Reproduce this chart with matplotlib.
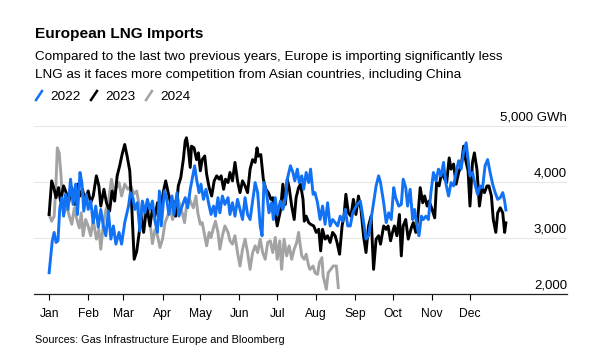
import matplotlib
matplotlib.use('Agg')
import matplotlib.pyplot as plt
from matplotlib.lines import Line2D

plt.rcParams['font.family'] = ['Liberation Sans', 'DejaVu Sans']

# day of year / daily LNG imports (GWh)
d22 = [0, 2.5, 4, 5.5, 7, 8.5, 10, 11.5, 13, 15, 17, 19, 21, 22.5, 24.5, 26, 27.5, 29.5, 31, 33,
       35, 37, 39, 41, 43, 45, 47, 49, 51, 53, 55.5, 57.5, 60, 63, 64.5, 66.5, 68, 70, 72, 74,
       76, 78, 80, 82, 84, 86, 87.5, 89, 91.5, 93, 95, 97.5, 99, 101.5, 103, 105.5, 108, 110, 112, 115.5,
       117, 119, 120.5, 122.5, 124.5, 126.5, 128.5, 130.5, 132, 134, 135.5, 137.5, 139.5, 142, 143.5, 145.5, 147.5, 149.5, 151.5, 153.5,
       155.5, 157.5, 159.5, 161.5, 163.5, 165.5, 167.5, 169, 170.5, 172.5, 174.5, 176.5, 178, 179.5, 181, 183.5, 185.5, 187.5, 189, 191.5,
       193.5, 195, 197, 198.5, 200.5, 202, 204, 206, 207.5, 209.5, 211, 213, 215, 217, 219, 221, 223, 225, 227, 229,
       231, 233, 235, 237, 239, 241, 243, 244.5, 247, 248.5, 250, 251.5, 253.5, 255.5, 257.5, 259.5, 261.5, 263, 265.5, 267.5,
       269.5, 271.5, 273.5, 275, 277.5, 279.5, 281, 283, 284.5, 286.5, 288.5, 290, 292, 293.5, 295.5, 297, 299, 301, 303, 305,
       307, 309, 311, 313, 315, 317, 319, 321, 323, 325, 327, 329, 331, 332.5, 334, 336, 338, 340, 342, 344,
       346, 348, 350, 352, 354, 356, 358, 360, 361.5, 362.5]
v22 = [2380, 2950, 3100, 2920, 2950, 3540, 3720, 3390, 3780, 3510, 4050, 3600, 3960, 3420, 4170, 3990, 3480, 3780, 3510, 3660,
       3270, 3570, 3190, 3510, 3215, 3040, 3480, 2980, 3215, 2890, 3100, 2890, 3275, 3570, 3810, 3720, 3510, 3630, 3125, 3660,
       3450, 3690, 3510, 3660, 3300, 3100, 3840, 3215, 3840, 3750, 3420, 3750, 3420, 3810, 3390, 3570, 3720, 3540, 3870, 4290,
       4050, 3810, 3960, 3690, 3870, 3630, 3420, 3570, 3390, 3720, 3450, 3750, 3600, 3720, 3420, 3630, 3390, 3690, 3510, 3330,
       3720, 3420, 3330, 3660, 3990, 3810, 3215, 3040, 3990, 3810, 3450, 3630, 3330, 3720, 3420, 3660, 3510, 3690, 4050, 4290,
       4170, 4020, 4230, 3990, 4110, 3870, 4170, 3990, 4230, 3780, 3810, 3630, 3330, 3570, 3245, 3630, 3215, 3330, 3275, 3215,
       3390, 3300, 3510, 3215, 3215, 3450, 3540, 3600, 3660, 3450, 3215, 2980, 3040, 3330, 3630, 3930, 4110, 3990, 3630, 3275,
       3450, 3330, 3900, 3720, 3570, 3600, 4050, 3900, 3570, 3870, 3330, 3510, 3215, 3040, 3390, 3330, 3390, 3330, 3810, 4170,
       4020, 4230, 4110, 4350, 3960, 3750, 3990, 3930, 4170, 4380, 4230, 4550, 4700, 4400, 4110, 4170, 3960, 3780, 3930, 3900,
       4290, 4400, 4170, 3960, 3810, 3690, 3720, 3810, 3660, 3500]

d23 = [0, 2, 4, 5.5, 7.5, 9, 11.5, 13.5, 15.5, 18, 20.5, 22.5, 24.5, 26.5, 28.5, 31, 33, 35, 37.5, 39.5,
       41, 43.5, 45.5, 48, 50, 52, 54, 56, 58, 60, 62, 64, 65.5, 67.5, 69.5, 71.5, 73, 75, 77.5, 80,
       82, 84, 86, 88, 90.5, 92.5, 94.5, 97, 98.5, 100.5, 102.5, 104.5, 106.5, 108, 109, 110.5, 112, 113, 115, 117,
       118.5, 120, 121.5, 123.5, 125, 127, 129, 131, 133, 135, 136.5, 138.5, 140, 142, 143.5, 145.5, 147.5, 149.5, 151.5, 153.5,
       155.5, 157.5, 159.5, 161.5, 163.5, 165, 166, 168, 170, 172, 174, 176, 177.5, 179.5, 181, 183.5, 185.5, 187.5, 189, 190.5,
       192.5, 194.5, 196, 198, 199.5, 201.5, 202.5, 204, 206, 207.5, 210, 212, 214, 215.5, 217, 219, 221, 223, 225, 227,
       228.5, 230.5, 232.5, 234, 235.5, 237.5, 239.5, 241.5, 243.5, 245.5, 247.5, 249.5, 251.5, 253.5, 255.5, 257.5, 259.5, 261.5, 263, 265.5,
       267.5, 269, 271, 272.5, 274, 276, 278, 279.5, 281, 283, 285, 287.5, 289, 291, 292.5, 294.5, 296.5, 298, 300, 301.5,
       303.5, 306, 307.5, 309.5, 311.5, 314, 315.5, 317.5, 319, 321, 323, 325, 327, 329, 330.5, 332.5, 334, 336, 337.5, 339.5,
       341.5, 343.5, 345.5, 347.5, 349, 351, 352.5, 354.5, 356, 358, 360, 361.5, 362.5]
v23 = [3420, 4020, 3870, 3720, 3900, 3660, 3930, 3810, 3630, 3900, 3600, 3960, 3750, 3870, 3660, 3840, 3630, 3750, 4110, 3930,
       3570, 3870, 3630, 3480, 3840, 3660, 4110, 4290, 4500, 4670, 4450, 4200, 3600, 2620, 2760, 3100, 3400, 3100, 3570, 3215,
       3510, 3390, 3630, 3390, 3810, 4020, 3810, 3570, 3660, 3390, 3930, 4080, 4400, 4730, 4790, 4580, 4260, 4640, 4610, 4400,
       4520, 4200, 4400, 4465, 4140, 3900, 3750, 4020, 4110, 4050, 4110, 3870, 4050, 3990, 4170, 4020, 4350, 4020, 3810, 4020,
       3930, 3810, 4230, 4400, 4350, 4610, 4460, 4490, 4050, 3870, 3810, 3690, 3720, 3450, 3215, 3480, 3960, 3600, 4050, 3900,
       3570, 3330, 3720, 3900, 3960, 3690, 3300, 3390, 3275, 3245, 3215, 3100, 3155, 2770, 3155, 2980, 3040, 2920, 3100, 3040,
       2920, 2710, 3215, 3390, 3780, 3450, 3390, 3690, 3420, 3750, 3510, 3040, 2740, 3215, 3390, 2440, 2980, 3040, 2890, 3215,
       3155, 3215, 2950, 3100, 3215, 3040, 3420, 2680, 3215, 3330, 2980, 3185, 3275, 3100, 3330, 3900, 3630, 3750, 3570, 3660,
       3540, 3360, 3990, 3930, 4170, 4050, 3990, 4430, 4230, 4320, 3960, 4170, 4290, 4640, 4400, 4200, 3570, 4350, 4520, 4230,
       3570, 3900, 3810, 3930, 3930, 3750, 3330, 3100, 3450, 3540, 3450, 3100, 3270]

d24 = [0, 2, 4, 5.5, 6.5, 8, 9.5, 10.5, 12, 14, 16, 18, 20, 22, 24, 25.5, 27, 29, 31, 33,
       35, 37.5, 39.5, 41, 43, 45, 47, 49.5, 51.5, 53.5, 55.5, 57.5, 60, 62.5, 65, 67, 69.5, 72, 74, 76,
       78, 80, 82, 84, 86, 88, 90, 92, 94, 96, 98, 100, 102, 104, 106, 107.5, 109, 111, 112.5, 114.5,
       116.5, 118, 120, 121.5, 123.5, 125, 127, 128.5, 130.5, 132, 134, 135.5, 137.5, 139.5, 142, 143.5, 145.5, 147.5, 149.5, 151.5,
       153.5, 155.5, 157.5, 159.5, 161.5, 163.5, 165.5, 167.5, 169.5, 171.5, 173.5, 175.5, 177.5, 179.5, 181, 183, 184.5, 186.5, 188.5, 190.5,
       192.5, 194.5, 196.5, 198, 199, 200.5, 202.5, 204, 206, 207, 209.5, 211, 213, 214.5, 216.5, 217.5, 220, 221.5, 223.5, 225.5,
       228, 229.5]
v24 = [3420, 3300, 3390, 4000, 4610, 4520, 4100, 3700, 3450, 3570, 3390, 3245, 3540, 3330, 3180, 3450, 3040, 3330, 3210, 3040,
       3330, 2980, 3150, 2800, 3240, 3500, 3630, 4050, 3830, 3900, 3990, 3750, 3960, 3870, 3930, 3780, 3840, 3510, 3330, 3500,
       3660, 3300, 2900, 3150, 3040, 2830, 2980, 3275, 3390, 3540, 3330, 3480, 3720, 3570, 3420, 3275, 3570, 3720, 3630, 3540,
       3750, 3450, 3245, 3275, 3040, 2860, 3100, 3010, 3190, 3300, 3100, 2800, 3040, 3215, 3100, 2950, 2890, 3040, 2740, 2500,
       2800, 2980, 2740, 2440, 2740, 2860, 2740, 2980, 2740, 2620, 2920, 2950, 2740, 3010, 2620, 2950, 2440, 2980, 2680, 2860,
       2620, 2800, 2920, 3100, 2920, 2680, 2620, 2710, 2500, 2440, 2500, 2380, 2350, 2560, 2650, 2320, 2085, 2380, 2440, 2500,
       2500, 2115]

months = ['Jan', 'Feb', 'Mar', 'Apr', 'May', 'Jun', 'Jul', 'Aug', 'Sep', 'Oct', 'Nov', 'Dec']
month_start = [0, 31, 59, 90, 120, 151, 181, 212, 243, 273, 304, 334]
y_ticks = [2000, 3000, 4000, 5000]
y_labels = ['2,000', '3,000', '4,000', '5,000 GWh']

BLUE = '#1272f5'
BLACK = '#000000'
GRAY = '#a3a3a3'

W, H = 595, 357
fig = plt.figure(figsize=(W / 100, H / 100), dpi=100)


def fx(x):
    return x / W


def fy(y):
    return 1 - y / H


ax = fig.add_axes([fx(34), fy(294), (567 - 34) / W, (294 - 126) / H])

ax.plot(d24, v24, color=GRAY, lw=2.1, solid_joinstyle='round')
ax.plot(d23, v23, color=BLACK, lw=2.1, solid_joinstyle='round')
ax.plot(d22, v22, color=BLUE, lw=2.1, solid_joinstyle='round')

ax.set_xlim(-12, 411)
ax.set_ylim(2000, 5000)

ax.set_xticks(month_start)
ax.set_xticklabels(months, fontsize=8.7)
ax.tick_params(axis='x', direction='out', length=4, width=0.8, pad=6, colors='black')

ax.set_yticks(y_ticks)
ax.set_yticklabels([])
ax.tick_params(axis='y', length=0)
ax.grid(axis='y', color='#e6e6e6', lw=0.8)
ax.set_axisbelow(True)

for v, lab in zip(y_ticks, y_labels):
    ax.annotate(lab, xy=(1, v), xycoords=('axes fraction', 'data'),
                xytext=(0, 4), textcoords='offset points',
                ha='right', va='baseline', fontsize=9.5)

for s in ['top', 'right', 'left']:
    ax.spines[s].set_visible(False)
ax.spines['bottom'].set_color('#222222')
ax.spines['bottom'].set_linewidth(0.9)

# header
fig.text(fx(35), fy(38), 'European LNG Imports', fontsize=11.1, fontweight='bold', va='baseline')
fig.text(fx(35), fy(60), 'Compared to the last two previous years, Europe is importing significantly less',
         fontsize=9.7, va='baseline')
fig.text(fx(35), fy(78), 'LNG as it faces more competition from Asian countries, including China',
         fontsize=9.7, va='baseline')

# legend
for x0, col, lab in [(35, BLUE, '2022'), (90, BLACK, '2023'), (145, GRAY, '2024')]:
    fig.add_artist(Line2D([fx(x0 + 1), fx(x0 + 7)], [fy(100), fy(91)], color=col, lw=1.8))
    fig.text(fx(x0 + 15), fy(100.5), lab, fontsize=9.7, va='baseline')

fig.text(fx(35), fy(343), 'Sources: Gas Infrastructure Europe and Bloomberg', fontsize=7.8, va='baseline')

fig.savefig('out.png', dpi=100)
